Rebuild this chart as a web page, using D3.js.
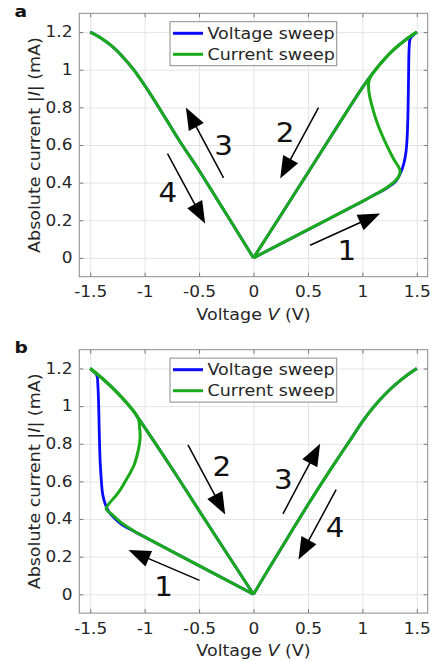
<!DOCTYPE html>
<html>
<head>
<meta charset="utf-8">
<script src="https://cdn.jsdelivr.net/npm/d3@7"></script>
<style>
body { margin: 0; background: #fff; }
svg { font-family: "DejaVu Sans", sans-serif; }
</style>
</head>
<body>
<div id="chart"></div>
<script>
// ticks and legend
const xTicks = [-1.5, -1, -0.5, 0, 0.5, 1, 1.5];
const yTicks = [0, 0.2, 0.4, 0.6, 0.8, 1, 1.2];
const seriesNames = ["Voltage sweep", "Current sweep"];

// panel a, [V, |I|] pairs
const aVoltageForward = [[0, 0], [0.5, 0.15], [1.0, 0.3], [1.133, 0.342], [1.2, 0.362], [1.26, 0.385],
  [1.31, 0.41], [1.35, 0.45], [1.38, 0.5], [1.40, 0.56], [1.412, 0.65], [1.42, 0.8], [1.425, 1.0],
  [1.43, 1.12], [1.44, 1.165], [1.5, 1.2]];
const aCurrentForward = [[0, 0], [0.5, 0.15], [1.0, 0.3], [1.133, 0.342], [1.2, 0.365], [1.25, 0.385],
  [1.3, 0.408], [1.33, 0.43], [1.347, 0.462], [1.286, 0.527], [1.224, 0.598], [1.169, 0.669],
  [1.123, 0.74], [1.087, 0.811], [1.065, 0.864], [1.056, 0.917], [1.062, 0.943], [1.077, 0.965],
  [1.1, 0.985], [1.2, 1.055], [1.3, 1.113], [1.4, 1.16], [1.5, 1.2]];
const aLrsReturn = [[1.5, 1.2], [1.4, 1.16], [1.3, 1.113], [1.2, 1.055], [1.1, 0.985],
  [1.0, 0.905], [0.5, 0.4525], [0, 0]];
const aNegBranch = [[0, 0], [-0.214, 0.2], [-0.367, 0.342], [-0.52, 0.483], [-0.673, 0.616],
  [-0.796, 0.731], [-0.949, 0.873], [-1.041, 0.952], [-1.1, 1.0], [-1.2, 1.068], [-1.3, 1.125],
  [-1.4, 1.168], [-1.5, 1.2]];

// panel b
const bVoltageForward = [[0, 0], [-0.5, 0.152], [-1.0, 0.305], [-1.102, 0.336], [-1.18, 0.36],
  [-1.24, 0.385], [-1.286, 0.41], [-1.33, 0.44], [-1.362, 0.48], [-1.385, 0.53], [-1.397, 0.6],
  [-1.408, 0.7], [-1.415, 0.82], [-1.422, 1.0], [-1.43, 1.117], [-1.44, 1.165], [-1.5, 1.2]];
const bCurrentForward = [[0, 0], [-0.5, 0.152], [-1.0, 0.305], [-1.102, 0.338], [-1.224, 0.385],
  [-1.3, 0.425], [-1.335, 0.44], [-1.353, 0.455], [-1.316, 0.49], [-1.27, 0.52], [-1.224, 0.555],
  [-1.178, 0.6], [-1.133, 0.645], [-1.095, 0.69], [-1.071, 0.735], [-1.05, 0.79], [-1.041, 0.835],
  [-1.045, 0.88], [-1.056, 0.93], [-1.1, 0.972], [-1.2, 1.04], [-1.3, 1.1], [-1.4, 1.153],
  [-1.5, 1.2]];
const bLrsReturn = [[-1.5, 1.2], [-1.4, 1.153], [-1.3, 1.1], [-1.2, 1.04], [-1.1, 0.972],
  [-1.056, 0.935], [-0.75, 0.67], [-0.5, 0.445], [-0.25, 0.222], [0, 0]];
const bPosBranch = [[0, 0], [0.15, 0.145], [0.303, 0.29], [0.456, 0.435], [0.609, 0.575],
  [0.732, 0.685], [0.885, 0.817], [1.007, 0.923], [1.1, 0.993], [1.2, 1.058], [1.3, 1.113],
  [1.4, 1.16], [1.5, 1.2]];

// sweep-direction arrows, in data units: tail, head, label centre
const aArrows = [
  {label: "1", tail: [0.52, 0.067], head: [1.163, 0.236], at: [0.858, 0.04]},
  {label: "2", tail: [0.597, 0.799], head: [0.245, 0.422], at: [0.291, 0.669]},
  {label: "3", tail: [-0.275, 0.425], head: [-0.621, 0.799], at: [-0.275, 0.598]},
  {label: "4", tail: [-0.79, 0.554], head: [-0.444, 0.183], at: [-0.786, 0.345]}
];
const bArrows = [
  {label: "1", tail: [-0.496, 0.074], head: [-1.148, 0.235], at: [-0.826, 0.044]},
  {label: "2", tail: [-0.602, 0.794], head: [-0.26, 0.424], at: [-0.29, 0.68]},
  {label: "3", tail: [0.27, 0.427], head: [0.612, 0.8], at: [0.275, 0.609]},
  {label: "4", tail: [0.759, 0.556], head: [0.413, 0.185], at: [0.75, 0.353]}
];

const blue = "#0a0aff", green = "#1aaa1a", ink = "#262626";
const stretch = 1.13; // reference text is a bit wide
const left = 79.3, plotW = 348.4, plotH = 263.4;

const svg = d3.select("#chart").append("svg")
  .attr("width", 435)
  .attr("height", 662);

function panel(top, letter, voltageBranches, currentBranches, arrows) {
  const g = svg.append("g").attr("transform", `translate(${left},${top})`);

  const x = d3.scaleLinear().domain([-1.6, 1.6]).range([0, plotW]);
  const y = d3.scaleLinear().domain([-0.1, 1.3]).range([plotH, 0]);

  // grid
  g.append("g")
    .attr("transform", `translate(0,${plotH})`)
    .call(d3.axisBottom(x).tickValues(xTicks).tickSize(-plotH).tickFormat(""))
    .call(s => s.select(".domain").remove())
    .selectAll("line").attr("stroke", "#e4e4e4");
  g.append("g")
    .call(d3.axisLeft(y).tickValues(yTicks).tickSize(-plotW).tickFormat(""))
    .call(s => s.select(".domain").remove())
    .selectAll("line").attr("stroke", "#e4e4e4");

  // curves
  const line = d3.line()
    .x(d => x(d[0]))
    .y(d => y(d[1]))
    .curve(d3.curveCatmullRom.alpha(0.5));

  g.selectAll(".vsweep")
    .data(voltageBranches)
    .enter().append("path")
    .attr("class", "vsweep")
    .attr("d", line)
    .attr("fill", "none")
    .attr("stroke", blue)
    .attr("stroke-width", 2.8)
    .attr("stroke-linejoin", "round");

  g.selectAll(".isweep")
    .data(currentBranches)
    .enter().append("path")
    .attr("class", "isweep")
    .attr("d", line)
    .attr("fill", "none")
    .attr("stroke", green)
    .attr("stroke-width", 3)
    .attr("stroke-linejoin", "round");

  // axes, ticks inside on all four sides
  const xAxis = g.append("g")
    .attr("transform", `translate(0,${plotH})`)
    .call(d3.axisBottom(x).tickValues(xTicks).tickSize(-4).tickSizeOuter(0)
      .tickPadding(10).tickFormat(d => String(d)));
  const yAxis = g.append("g")
    .call(d3.axisLeft(y).tickValues(yTicks).tickSize(-4).tickSizeOuter(0)
      .tickPadding(6).tickFormat(d => String(d)));
  g.append("g")
    .call(d3.axisTop(x).tickValues(xTicks).tickSize(-4).tickSizeOuter(0).tickFormat(""));
  g.append("g")
    .attr("transform", `translate(${plotW},0)`)
    .call(d3.axisRight(y).tickValues(yTicks).tickSize(-4).tickSizeOuter(0).tickFormat(""));

  g.selectAll(".tick line").filter(function() { return this.getAttribute("stroke") === "currentColor"; })
    .attr("stroke", "#777");
  g.selectAll(".domain").remove();
  [xAxis, yAxis].forEach(a => a.selectAll("text")
    .attr("fill", ink)
    .attr("font-size", 15)
    .attr("font-family", "DejaVu Sans")
    .attr("transform", `scale(${stretch},1)`));

  g.append("rect")
    .attr("width", plotW)
    .attr("height", plotH)
    .attr("fill", "none")
    .attr("stroke", "#8a8a8a");

  // arrows
  const headLen = 22, headHalf = 8.5;
  arrows.forEach(a => {
    const x1 = x(a.tail[0]), y1 = y(a.tail[1]);
    const x2 = x(a.head[0]), y2 = y(a.head[1]);
    const len = Math.hypot(x2 - x1, y2 - y1);
    const ux = (x2 - x1) / len, uy = (y2 - y1) / len;
    const bx = x2 - ux * headLen, by = y2 - uy * headLen;
    g.append("line")
      .attr("x1", x1).attr("y1", y1)
      .attr("x2", bx + ux * 2).attr("y2", by + uy * 2)
      .attr("stroke", "#000")
      .attr("stroke-width", 1.5);
    g.append("polygon")
      .attr("points", [[x2, y2], [bx - uy * headHalf, by + ux * headHalf], [bx + uy * headHalf, by - ux * headHalf]]
        .map(p => p.join(",")).join(" "))
      .attr("fill", "#000");
    g.append("text")
      .attr("transform", `translate(${x(a.at[0])},${y(a.at[1]) + 9.5}) scale(${stretch},1)`)
      .attr("text-anchor", "middle")
      .attr("font-size", 26)
      .attr("fill", "#111")
      .text(a.label);
  });

  // legend
  const lg = g.append("g").attr("transform", "translate(90.7,8.4)");
  lg.append("rect")
    .attr("width", 166.7)
    .attr("height", 44)
    .attr("fill", "#fff")
    .attr("stroke", "#8a8a8a");
  [blue, green].forEach((c, i) => {
    const cy = 11.6 + i * 21;
    lg.append("line")
      .attr("x1", 3).attr("x2", 33)
      .attr("y1", cy).attr("y2", cy)
      .attr("stroke", c)
      .attr("stroke-width", 3);
    lg.append("text")
      .attr("transform", `translate(37.5,${cy + 5.5}) scale(${stretch},1)`)
      .attr("font-size", 15.5)
      .attr("fill", ink)
      .text(seriesNames[i]);
  });

  // axis labels
  const xl = g.append("text")
    .attr("transform", `translate(${plotW / 2},${plotH + 42.8}) scale(${stretch},1)`)
    .attr("text-anchor", "middle")
    .attr("font-size", 15.5)
    .attr("fill", ink);
  xl.append("tspan").text("Voltage ");
  xl.append("tspan").attr("font-style", "italic").text("V");
  xl.append("tspan").text(" (V)");

  const yl = g.append("text")
    .attr("transform", `translate(${40 - left},${plotH / 2}) rotate(-90) scale(${stretch},1)`)
    .attr("text-anchor", "middle")
    .attr("font-size", 15.5)
    .attr("fill", ink);
  yl.append("tspan").text("Absolute current |");
  yl.append("tspan").attr("font-style", "italic").text("I");
  yl.append("tspan").text("| (mA)");

  svg.append("text")
    .attr("transform", `translate(14.5,${top + 3.6}) scale(${stretch},1)`)
    .attr("font-size", 16.5)
    .attr("font-weight", "bold")
    .attr("fill", "#111")
    .text(letter);
}

panel(13.3, "a",
  [aVoltageForward, aLrsReturn, aNegBranch],
  [aCurrentForward, aLrsReturn, aNegBranch],
  aArrows);
panel(349.7, "b",
  [bVoltageForward, bLrsReturn, bPosBranch],
  [bCurrentForward, bLrsReturn, bPosBranch],
  bArrows);
</script>
</body>
</html>
